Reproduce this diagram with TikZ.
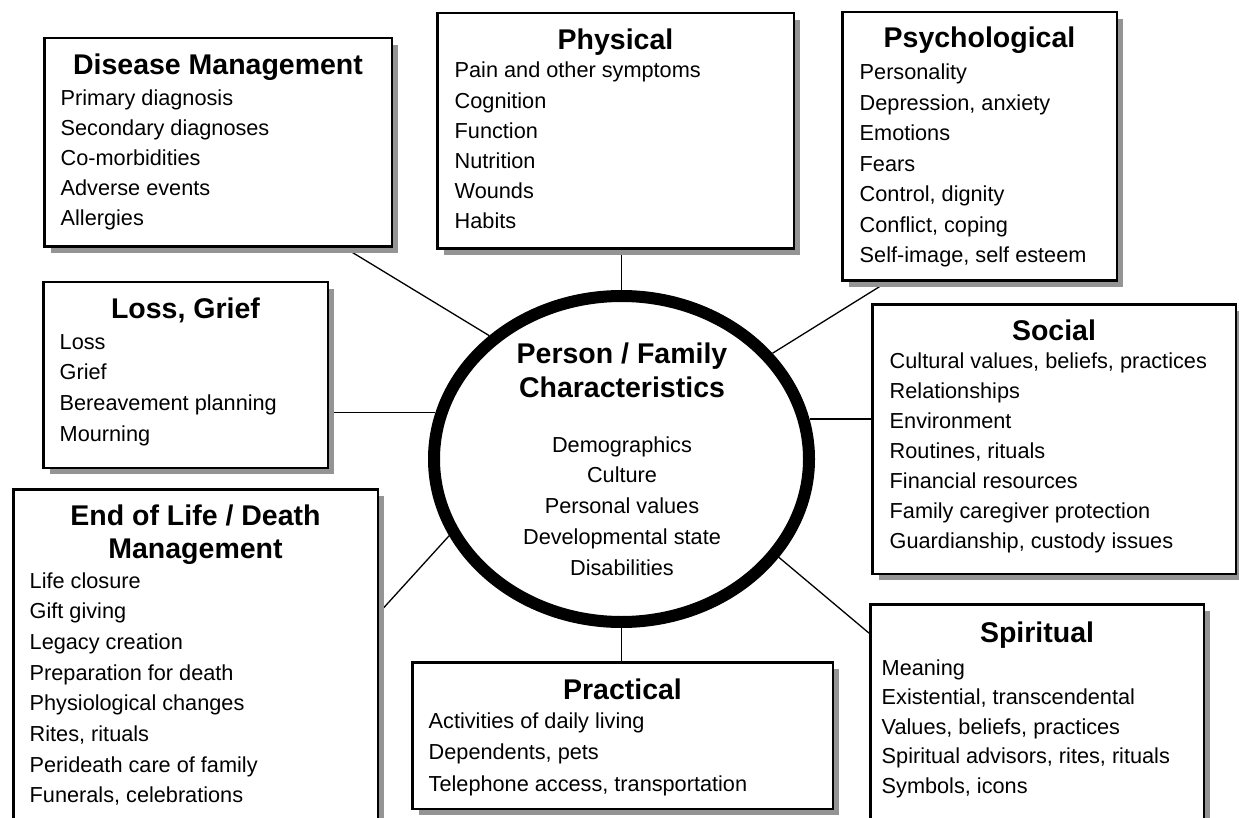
\documentclass[tikz,border=0pt]{standalone}
\usepackage{fontspec}
\setmainfont{Liberation Sans}
\usetikzlibrary{shadows,calc,shapes.geometric}
\pgfdeclarelayer{background}
\pgfsetlayers{background,main}
\tikzset{
  box/.style={rectangle, draw, line width=2.5pt, fill=white, inner sep=0pt,
    drop shadow={shadow xshift=6.5pt, shadow yshift=-6.5pt, fill=black!42, opacity=1}},
  ttl/.style={anchor=base, inner sep=0pt, font=\fontsize{28.5}{34}\selectfont\bfseries},
  itm/.style={anchor=base west, inner sep=0pt, font=\fontsize{21.7}{30}\selectfont},
  citm/.style={anchor=base, inner sep=0pt, font=\fontsize{21.7}{30}\selectfont},
  conn/.style={line width=1.3pt},
  hub/.style={ellipse, draw, line width=12pt, fill=white, minimum width=375pt,
    minimum height=326pt, inner sep=0pt}
}
\newcommand\mylist[6]{%
  \foreach \t [count=\k from 0] in {#6} {
    \node[#5] (#1-\k) at ({#2},{#3+#4*\k}) {\t};
  }%
}
\begin{document}
\begin{tikzpicture}[x=1pt,y=-1pt]
\useasboundingbox (0,0) rectangle (1239,818);

% boxes
\node[box, minimum width=347.5pt, minimum height=208.5pt] (dis) at (218,142.5) {};
\node[box, minimum width=356.5pt, minimum height=235.5pt] (phys) at (615.5,131) {};
\node[box, minimum width=274.5pt, minimum height=268.5pt] (psy) at (979.5,146.5) {};
\node[box, minimum width=363.5pt, minimum height=269.5pt] (soc) at (1054,439) {};
\node[box, minimum width=333.5pt, minimum height=234.5pt] (spi) at (1037,721.5) {};
\node[box, minimum width=284.5pt, minimum height=185.5pt] (loss) at (185.5,375) {};
\node[box, minimum width=364.5pt, minimum height=349.5pt] (eol) at (195.5,664) {};
\node[box, minimum width=420.5pt, minimum height=146.5pt] (prac) at (622.5,735.5) {};
\node[hub] (hub) at (621.5,459) {};

% titles
\node[ttl] (dis-t) at (218,75) {Disease Management};
\node[ttl] (phys-t) at (615.5,50) {Physical};
\node[ttl] (psy-t) at (979.5,48) {Psychological};
\node[ttl] (soc-t) at (1054,340) {Social};
\node[ttl] (spi-t) at (1037,642) {Spiritual};
\node[ttl] (loss-t) at (185.5,318) {Loss, Grief};
\node[ttl] (eol-t1) at (195.5,525) {End of Life / Death};
\node[ttl] (eol-t2) at (195.5,558) {Management};
\node[ttl] (prac-t) at (622.5,699) {Practical};
\node[ttl] (hub-t1) at (622,363) {Person / Family};
\node[ttl] (hub-t2) at (622,397) {Characteristics};

% items
\mylist{dis}{60.5}{106}{30}{itm}{Primary diagnosis, Secondary diagnoses, Co-morbidities, Adverse events, Allergies}
\mylist{phys}{454.5}{78}{30.2}{itm}{Pain and other symptoms, Cognition, Function, Nutrition, Wounds, Habits}
\mylist{psy}{859.5}{80}{30.5}{itm}{Personality, {Depression, anxiety}, Emotions, Fears, {Control, dignity}, {Conflict, coping}, {Self-image, self esteem}}
\mylist{soc}{889.5}{368}{30}{itm}{{Cultural values, beliefs, practices}, Relationships, Environment, {Routines, rituals}, Financial resources, Family caregiver protection, {Guardianship, custody issues}}
\mylist{spi}{881.5}{675}{29.5}{itm}{Meaning, {Existential, transcendental}, {Values, beliefs, practices}, {Spiritual advisors, rites, rituals}, {Symbols, icons}}
\mylist{loss}{59.5}{349}{30.7}{itm}{Loss, Grief, Bereavement planning, Mourning}
\mylist{eol}{29.5}{588}{30.7}{itm}{Life closure, Gift giving, Legacy creation, Preparation for death, Physiological changes, {Rites, rituals}, Perideath care of family, {Funerals, celebrations}}
\mylist{prac}{428.5}{728}{31.5}{itm}{Activities of daily living, {Dependents, pets}, {Telephone access, transportation}}
\mylist{hub}{622}{452}{30.75}{citm}{Demographics, Culture, Personal values, Developmental state, Disabilities}

\begin{pgfonlayer}{background}
\fill[white] (0,0) rectangle (1239,818);
\draw[conn] ($(dis.south west)!0.863!(dis.south east)$) -- (hub.137);
\draw[conn] (hub.north |- phys.south) -- (hub.north);
\draw[conn] ($(psy.south west)!0.166!(psy.south east)$) -- (hub.35);
\draw[conn] (hub.12) -- (hub.12 -| soc.west);
\draw[conn] (hub.166) -- (hub.166 -| loss.east);
\draw[conn] (hub.204) -- ($(eol.north east)!0.355!(eol.south east)$);
\draw[conn] (hub.south) -- (hub.south |- prac.north);
\draw[conn] (hub.328) -- ($(spi.north west)!0.127!(spi.south west)$);
\end{pgfonlayer}
\end{tikzpicture}
\end{document}
